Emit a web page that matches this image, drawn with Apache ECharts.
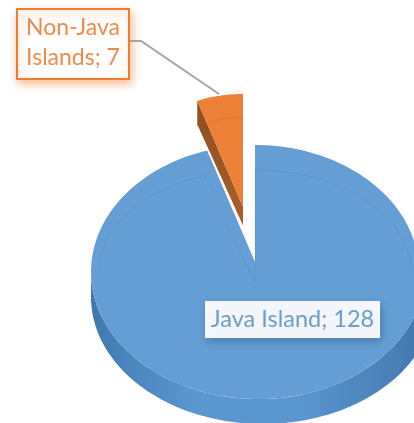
<!DOCTYPE html>
<html>
<head>
<meta charset="utf-8">
<style>html,body{margin:0;padding:0;background:#fff}#chart{width:414px;height:423px}</style>
<script src="https://cdn.jsdelivr.net/npm/echarts@6/dist/echarts.min.js"></script>
</head>
<body>
<div id="chart"></div>
<script>
// Tilted pie of island counts, drawn as custom-series shapes.
const categories = ['Java Island', 'Non-Java Islands'];
const values = [128, 7];
const total = values.reduce((a, b) => a + b, 0);

// Screen geometry of each slice's tilted disc.
// warp squeezes angles around 12 o'clock, lowerShift widens the near half of the disc.
const discs = [
  { cx: 255, cy: 272, rx: 164, ry: 127, ax: 255, ay: 262, warp: 0.903, lowerShift: 3,
    ringRx: 156, ringRy: 102, ringApex: [255.5, 283] },
  { cx: 243, cy: 221, rx: 143, ry: 127, ax: 243, ay: 207, warp: 1, lowerShift: 0,
    ringRx: 125, ringRy: 103, apexDepth: 20, depth: 25 }
];
const palette = [
  { face: '#649ED5', ring: 'rgba(70,120,170,0.2)' },
  { face: '#EC8037', ring: 'rgba(170,85,30,0.22)' }
];
const RAD = Math.PI / 180;

// Clockwise angle from 12 o'clock, squeezed by the disc's warp factor.
function warped(d, deg) {
  const t = deg * RAD;
  return Math.atan2(Math.sin(t) * d.warp, Math.cos(t));
}
function arcPoint(d, deg) {
  const t = warped(d, deg);
  const near = Math.cos(t) < 0 ? d.lowerShift : 0;
  return [d.cx + near + (d.rx + near) * Math.sin(t), d.cy - d.ry * Math.cos(t)];
}
function arcPoints(d, from, to) {
  const pts = [];
  const n = Math.max(2, Math.ceil(Math.abs(to - from) / 2));
  for (let i = 0; i <= n; i++) pts.push(arcPoint(d, from + (to - from) * i / n));
  return pts;
}
function ringPoints(d, from, to) {
  const pts = [];
  const n = Math.max(2, Math.ceil(Math.abs(to - from) / 2));
  for (let i = 0; i <= n; i++) {
    const t = warped(d, from + (to - from) * i / n);
    pts.push([d.cx + d.ringRx * Math.sin(t), d.cy - d.ringRy * Math.cos(t)]);
  }
  return pts;
}
function line(points, stroke, width) {
  return { type: 'polyline', shape: { points }, style: { stroke, lineWidth: width, fill: null } };
}
function callout(x, y, w, h, lines, opts) {
  const children = [{
    type: 'rect',
    shape: { x, y, width: w, height: h },
    style: {
      fill: opts.fill, stroke: opts.stroke, lineWidth: opts.lineWidth,
      shadowBlur: 9, shadowOffsetX: 2, shadowOffsetY: 4, shadowColor: opts.shadow
    }
  }];
  lines.forEach((text, i) => {
    children.push({
      type: 'text',
      style: {
        x: x + w / 2,
        y: y + h / 2 + opts.nudge + (i - (lines.length - 1) / 2) * opts.leading,
        text, align: 'center', verticalAlign: 'middle',
        font: opts.font, fill: opts.color
      }
    });
  });
  return children;
}

function renderSlice(params, api) {
  const i = params.dataIndex;
  const before = values.slice(0, i).reduce((a, b) => a + b, 0);
  const start = before / total * 360;
  const end = start + api.value(1) / total * 360;
  const d = discs[i];
  const c = palette[i];
  const face = [[d.ax, d.ay]].concat(arcPoints(d, start, end));
  const children = [];

  if (i === 0) {
    // Near rim of the disc; its lower edge sits on a slightly wider ellipse
    const upper = arcPoints(d, 90, 270);
    const lower = [];
    for (let a = 270; a >= 90; a -= 2) {
      lower.push([263 + 172 * Math.sin(a * RAD), 297 - 127 * Math.cos(a * RAD)]);
    }
    children.push({
      type: 'polygon',
      shape: { points: upper.concat(lower) },
      style: {
        fill: new echarts.graphic.LinearGradient(0, 0, 1, 0, [
          { offset: 0, color: '#3F76AC' },
          { offset: 0.1, color: '#4A84BC' },
          { offset: 0.3, color: '#5A96D0' },
          { offset: 0.6, color: '#5A96D0' },
          { offset: 0.85, color: '#4A82B8' },
          { offset: 1, color: '#3F76AC' }
        ])
      }
    });
  } else {
    // Cut wall of the pulled-out slice
    const p = arcPoint(d, start);
    children.push({
      type: 'polygon',
      shape: { points: [p, [d.ax, d.ay], [d.ax, d.ay + d.apexDepth], [p[0], p[1] + d.depth]] },
      style: {
        fill: new echarts.graphic.LinearGradient(0, 0, 0, 1, [
          { offset: 0, color: '#8E4F1F' },
          { offset: 1, color: '#A8602A' }
        ])
      }
    });
    children.push(line([[p[0], p[1] + d.depth], [d.ax, d.ay + d.apexDepth]], '#FFFFFF', 1.2));
  }
  children.push({ type: 'polygon', shape: { points: face }, style: { fill: c.face } });

  // Bevel line just inside the far rim and the cut edges
  if (i === 0) {
    const right = ringPoints(d, start + 0.3, 90);
    const left = ringPoints(d, 270, end - 2);
    children.push(line([d.ringApex].concat(right), c.ring, 1));
    children.push(line(left.concat([d.ringApex]), c.ring, 1));
  } else {
    children.push(line(ringPoints(d, start, end), c.ring, 1));
  }

  const label = api.value(0) + '; ' + api.value(1);
  if (i === 0) {
    children.push.apply(children, callout(205, 301, 175, 37, [label], {
      fill: 'rgba(255,255,255,0.93)', stroke: null, lineWidth: 0, font: '23.5px Lato',
      color: '#6E9CC8', shadow: 'rgba(40,80,120,0.45)', leading: 0, nudge: 0
    }));
  } else {
    const words = categories[i].split(' ');
    children.push(line([[129, 41], [141, 41], [219, 94]], '#A6A6A6', 2));
    children.push.apply(children, callout(17, 9, 112, 70, [words[0], words[1] + '; ' + api.value(1)], {
      fill: '#FFFFFF', stroke: '#ED7D31', lineWidth: 2, font: '23px Lato',
      color: '#EE8A4A', shadow: 'rgba(237,125,49,0.5)', leading: 30, nudge: -1
    }));
  }
  return { type: 'group', children };
}

const chart = echarts.init(document.getElementById('chart'), null, { renderer: 'canvas' });
chart.setOption({
  animation: false,
  backgroundColor: '#FFFFFF',
  series: [{
    type: 'custom',
    coordinateSystem: 'none',
    renderItem: renderSlice,
    encode: { value: 1 },
    data: categories.map((name, i) => [name, values[i]]),
    dimensions: [{ name: 'name', type: 'ordinal' }, { name: 'value', type: 'number' }]
  }]
});
</script>
</body>
</html>
